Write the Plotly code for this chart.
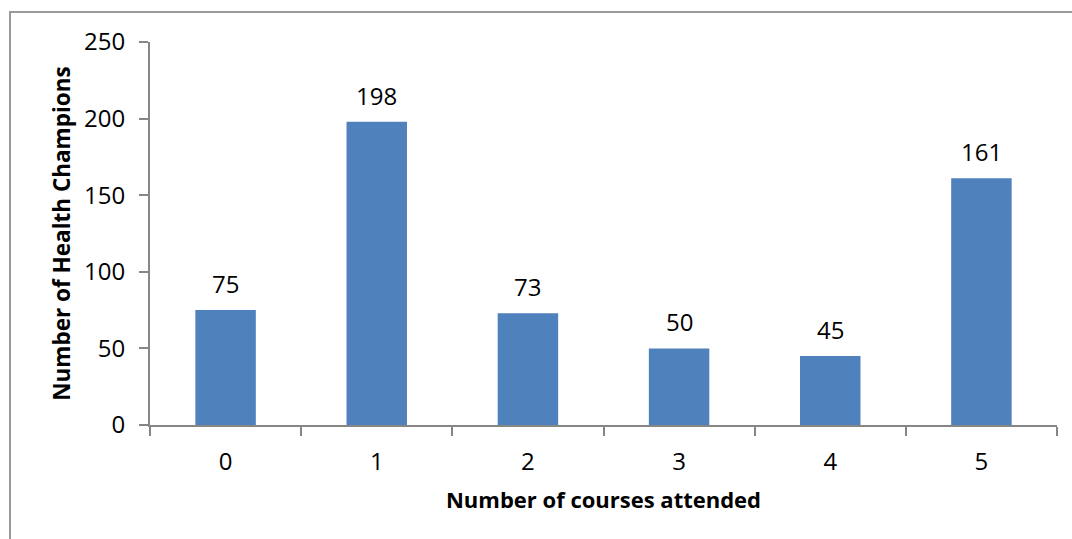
import plotly.graph_objects as go

categories = ["0", "1", "2", "3", "4", "5"]
values = [75, 198, 73, 50, 45, 161]
y_ticks = [0, 50, 100, 150, 200, 250]

W, H = 1072, 539
L, R, T, B = 150, 15, 42, 114
pw, ph = W - L - R, H - T - B

font = "Open Sans"
axis_col = "#868686"

fig = go.Figure(go.Bar(
    x=categories, y=values,
    marker=dict(color="#4F81BD", line=dict(width=0)),
    hoverinfo="x+y",
))

for c, v in zip(categories, values):
    fig.add_annotation(
        x=c, y=v, text=str(v), showarrow=False, yanchor="bottom", yshift=8,
        font=dict(family=font, size=24, color="#000000"),
    )

fig.update_layout(
    width=W, height=H,
    margin=dict(l=L, r=R, t=T, b=B),
    paper_bgcolor="white", plot_bgcolor="white",
    bargap=0.6, showlegend=False,
    font=dict(family=font, color="#000000"),
)
fig.update_xaxes(
    type="category", showline=True, linecolor=axis_col, linewidth=2,
    ticks="outside", tickson="boundaries", ticklen=9, tickcolor=axis_col, tickwidth=2,
    tickfont=dict(family=font, size=24), showgrid=False,
    ticklabelstandoff=14,
    title=dict(text="<b>Number of courses attended</b>", font=dict(family=font, size=22), standoff=17),
)
fig.update_yaxes(
    range=[0, 250], tickvals=y_ticks, showline=True, linecolor=axis_col, linewidth=2,
    ticks="outside", ticklen=9, tickcolor=axis_col, tickwidth=2,
    tickfont=dict(family=font, size=24), showgrid=False, zeroline=False,
    ticklabelstandoff=9,
    title=dict(text="<b>Number of Health Champions</b>", font=dict(family=font, size=22.5), standoff=7),
)

# outer chart border (Excel chart area)
fig.add_shape(
    type="rect", xref="paper", yref="paper",
    x0=(10 - L) / pw, x1=(W + 20 - L) / pw,
    y0=-(H + 20 - T - ph) / ph, y1=1 + (T - 12) / ph,
    line=dict(color="#9a9a9a", width=2), fillcolor="rgba(0,0,0,0)", layer="below",
)

fig.write_html(
    "out.html",
    config={"displayModeBar": False},
    post_script="document.body.style.margin='0';document.body.style.overflow='hidden';",
)
